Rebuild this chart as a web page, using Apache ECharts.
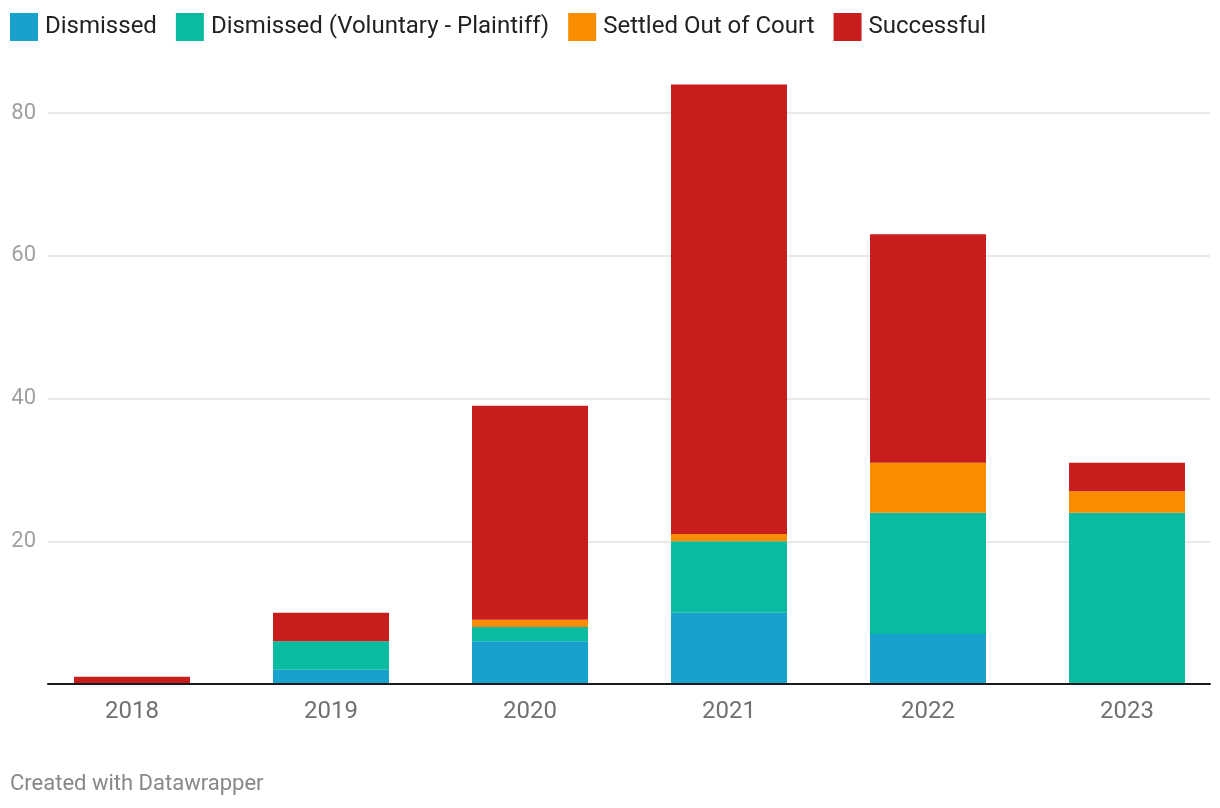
<!DOCTYPE html>
<html>
<head>
<meta charset="utf-8">
<script src="https://cdn.jsdelivr.net/npm/echarts@6/dist/echarts.min.js"></script>
<style>
html,body{margin:0;padding:0;background:#fff;}
#chart{width:1220px;height:808px;}
</style>
</head>
<body>
<div id="chart"></div>
<script>
const years = ['2018', '2019', '2020', '2021', '2022', '2023'];
const dismissed = [0, 2, 6, 10, 7, 0];
const dismissedVoluntary = [0, 4, 2, 10, 17, 24];
const settled = [0, 0, 1, 1, 7, 3];
const successful = [1, 4, 30, 63, 32, 4];
const seriesNames = ['Dismissed', 'Dismissed (Voluntary - Plaintiff)', 'Settled Out of Court', 'Successful'];
const colors = ['#18a1cd', '#09bb9f', '#fa8c00', '#c71e1d'];
const yMax = 84;
const yTickStep = 20;

const font = 'Roboto';
const chart = echarts.init(document.getElementById('chart'), null, {renderer: 'canvas'});
const dataSets = [dismissed, dismissedVoluntary, settled, successful];

chart.setOption({
  animation: false,
  textStyle: {fontFamily: font},
  color: colors,
  legend: {
    left: 10, top: 13, padding: 0,
    itemWidth: 28, itemHeight: 28, itemGap: 19,
    icon: 'rect',
    textStyle: {fontSize: 24, color: '#222', fontFamily: font, padding: [0, 0, 0, 2]},
    data: seriesNames
  },
  grid: [
    {left: 48, right: 10, top: 84.45, bottom: 124},
    {left: 132, right: 93, top: 84.45, bottom: 124}
  ],
  xAxis: [
    {gridIndex: 0, type: 'category', data: [''], z: 10,
     axisLine: {show: true, lineStyle: {color: '#1a1a1a', width: 2}},
     axisTick: {show: false}, axisLabel: {show: false}, splitLine: {show: false}},
    {gridIndex: 1, type: 'category', data: years, boundaryGap: false,
     axisLine: {show: false}, axisTick: {show: false},
     axisLabel: {color: '#707070', fontSize: 24, margin: 16, fontFamily: font}}
  ],
  yAxis: [
    {gridIndex: 0, type: 'value', min: 0, max: yMax, interval: yTickStep,
     axisLine: {show: false}, axisTick: {show: false},
     axisLabel: {color: '#a0a0a0', fontSize: 22, margin: 12, fontFamily: font, showMinLabel: false, showMaxLabel: false},
     splitLine: {show: true, showMaxLine: false, lineStyle: {color: '#e2e2e2', width: 1.5}}},
    {gridIndex: 1, type: 'value', min: 0, max: yMax, show: false, splitLine: {show: false}}
  ],
  series: seriesNames.map((name, i) => ({
    name: name,
    type: 'bar',
    stack: 'total',
    xAxisIndex: 1,
    yAxisIndex: 1,
    barWidth: 116,
    itemStyle: {color: colors[i]},
    data: dataSets[i]
  })),
  graphic: [{
    type: 'text', left: 10, top: 773,
    style: {text: 'Created with Datawrapper', fill: '#888', fontSize: 22, fontFamily: font}
  }]
});
</script>
</body>
</html>
